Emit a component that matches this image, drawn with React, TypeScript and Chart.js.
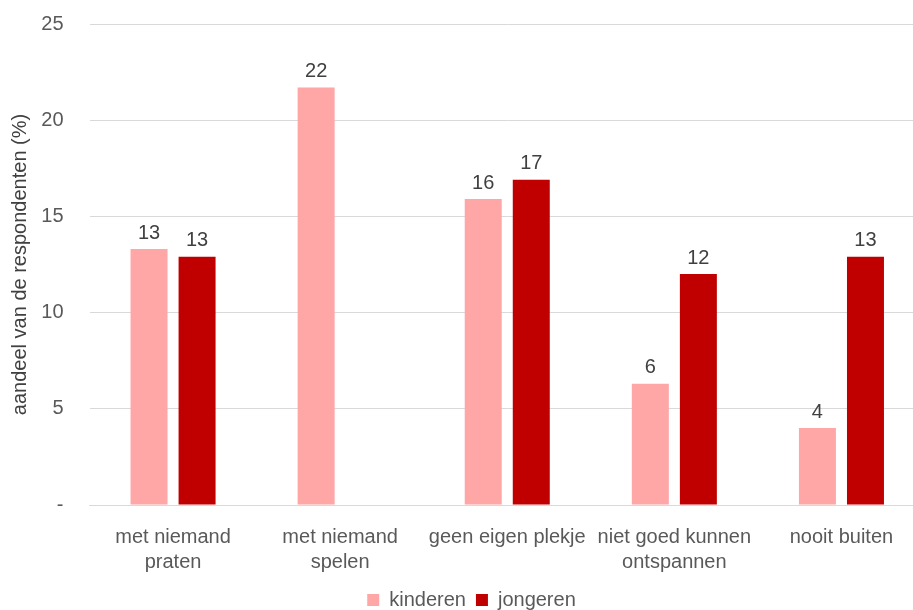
import React, { useEffect, useRef } from "react";
import { Chart, registerables } from "chart.js";

Chart.register(...registerables);

const categories: string[][] = [
  ["met niemand", "praten"],
  ["met niemand", "spelen"],
  ["geen eigen plekje"],
  ["niet goed kunnen", "ontspannen"],
  ["nooit buiten"],
];
const kinderen: (number | null)[] = [13.3, 21.7, 15.9, 6.3, 4.0];
const jongeren: (number | null)[] = [12.9, null, 16.9, 12.0, 12.9];
const yTicks: number[] = [0, 5, 10, 15, 20, 25];

const FONT = "'Liberation Sans Narrow', 'Arial Narrow', 'Liberation Sans', Arial, sans-serif";

const valueLabels = {
  id: "valueLabels",
  afterDatasetsDraw(chart: any) {
    const ctx = chart.ctx;
    ctx.save();
    ctx.font = `20px ${FONT}`;
    ctx.fillStyle = "#404040";
    ctx.textAlign = "center";
    ctx.textBaseline = "bottom";
    chart.data.datasets.forEach((ds: any, i: number) => {
      const meta = chart.getDatasetMeta(i);
      meta.data.forEach((bar: any, j: number) => {
        const v = ds.data[j];
        if (v === null || v === undefined) return;
        ctx.fillText(String(Math.round(v)), bar.x, bar.y - 6);
      });
    });
    ctx.restore();
  },
};

const layoutTweak = {
  id: "layoutTweak",
  afterLayout(chart: any) {
    const lg = chart.legend;
    if (lg) {
      lg.left += 9;
      lg.right += 9;
      lg.top += 10;
      lg.bottom += 10;
    }
    const x = chart.scales.x;
    if (x) x.bottom += 40;
  },
};

export default function App() {
  const ref = useRef<HTMLCanvasElement | null>(null);
  useEffect(() => {
    document.body.style.margin = "0";
    document.body.style.overflow = "hidden";
    const chart = new Chart(ref.current as HTMLCanvasElement, {
      type: "bar",
      data: {
        labels: categories,
        datasets: [
          { label: "kinderen", data: kinderen, backgroundColor: "#FFA6A6" },
          { label: "jongeren", data: jongeren, backgroundColor: "#C00000" },
        ],
      },
      options: {
        animation: false,
        responsive: false,
        maintainAspectRatio: false,
        layout: { padding: 0 },
        datasets: {
          bar: { categoryPercentage: 0.575, barPercentage: 0.77 },
        },
        scales: {
          x: {
            afterFit: (scale: any) => {
              scale.height = 65;
              scale.paddingLeft = 0;
              scale.paddingRight = 0;
            },
            grid: { display: false, drawTicks: false },
            border: { display: true, color: "#D9D9D9", width: 1 },
            ticks: {
              color: "#595959",
              font: { family: FONT, size: 20, lineHeight: 1.25 },
              padding: 20,
              maxRotation: 0,
              autoSkip: false,
            },
          },
          y: {
            min: 0,
            max: 25,
            afterBuildTicks: (scale: any) => {
              scale.ticks = yTicks.map((v) => ({ value: v }));
            },
            afterFit: (scale: any) => {
              scale.width = 89.5;
              scale.paddingTop = 24;
              scale.paddingBottom = 0;
            },
            grid: { color: "#D9D9D9", drawTicks: false },
            border: { display: false },
            ticks: {
              color: "#595959",
              font: { family: FONT, size: 20 },
              padding: 26,
              callback: (v: any) => (v === 0 ? "-" : String(v)),
            },
            title: {
              display: true,
              text: "aandeel van de respondenten (%)",
              color: "#404040",
              font: { family: FONT, size: 20 },
              padding: { top: 8, bottom: 0 },
            },
          },
        },
        plugins: {
          legend: {
            position: "bottom",
            labels: {
              color: "#595959",
              font: { family: FONT, size: 20 },
              boxWidth: 12,
              boxHeight: 12,
              padding: 10,
            },
          },
          tooltip: { enabled: false },
        },
      },
      plugins: [valueLabels, layoutTweak],
    });
    return () => chart.destroy();
  }, []);
  return (
    <div style={{ position: "fixed", left: 0, top: 0, width: 913, height: 610, overflow: "hidden", background: "#fff" }}>
      <canvas ref={ref} width={925} height={610} style={{ display: "block" }} />
    </div>
  );
}
